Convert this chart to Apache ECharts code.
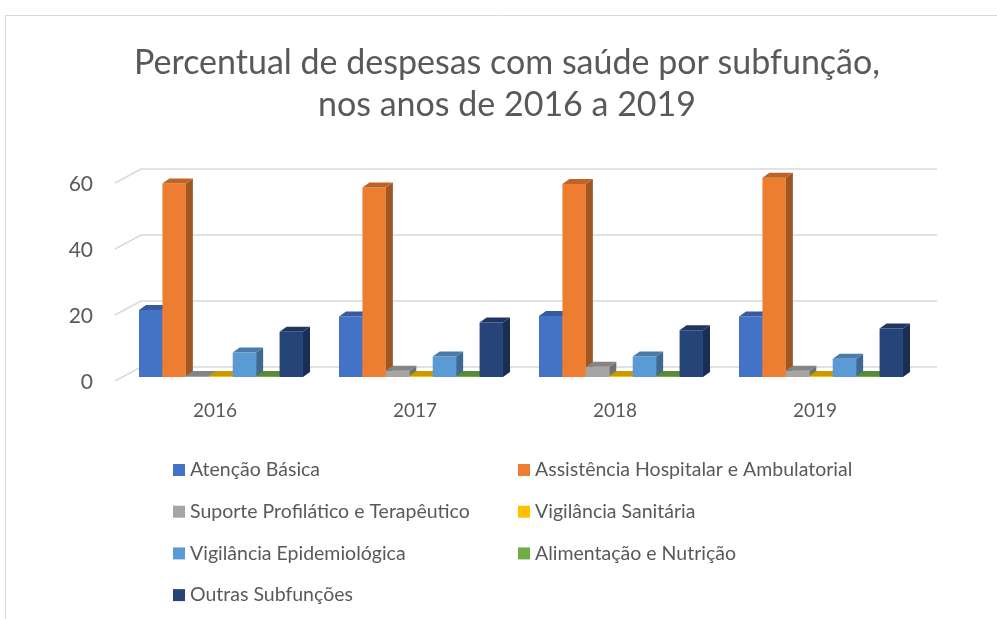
<!DOCTYPE html>
<html>
<head>
<meta charset="utf-8">
<script src="https://cdn.jsdelivr.net/npm/echarts@6/dist/echarts.min.js"></script>
<style>
  html, body { margin: 0; padding: 0; background: #fff; }
  #chart { width: 997px; height: 619px; }
</style>
</head>
<body>
<div id="chart"></div>
<script>
// dados (%)
const anos = ['2016', '2017', '2018', '2019']
const yTicks = [0, 20, 40, 60]
const atencaoBasica = [20.3, 18.3, 18.5, 18.3]
const assistencia = [58.6, 57.4, 58.5, 60.4]
const suporte = [0.3, 1.9, 3.1, 1.9]
const vigSanitaria = [0.3, 0.3, 0.3, 0.3]
const vigEpidemiologica = [7.4, 6.2, 6.2, 5.5]
const alimentacao = [0.3, 0.3, 0.3, 0.3]
const outras = [13.7, 16.5, 14.2, 14.7]

const seriesDefs = [
  {name: 'Atenção Básica', data: atencaoBasica, color: '#4472C4'},
  {name: 'Assistência Hospitalar e Ambulatorial', data: assistencia, color: '#ED7D31'},
  {name: 'Suporte Profilático e Terapêutico', data: suporte, color: '#A5A5A5'},
  {name: 'Vigilância Sanitária', data: vigSanitaria, color: '#FFC000'},
  {name: 'Vigilância Epidemiológica', data: vigEpidemiologica, color: '#5B9BD5'},
  {name: 'Alimentação e Nutrição', data: alimentacao, color: '#70AD47'},
  {name: 'Outras Subfunções', data: outras, color: '#264478'}
]

const FONT = 'Lato, "Open Sans", sans-serif'
const TXT = '#595959'
const DX = 7, DY = 5  // profundidade das colunas

// escurece uma cor hex (k < 1)
const shade = (hex, k) => {
  const n = parseInt(hex.slice(1), 16)
  const r = Math.round(((n >> 16) & 255) * k)
  const g = Math.round(((n >> 8) & 255) * k)
  const b = Math.round((n & 255) * k)
  return `rgb(${r},${g},${b})`
}

const chart = echarts.init(document.getElementById('chart'))

// colunas "3D": frente + lateral + topo
const makeBar = (i, color) => (params, api) => {
  const cat = api.value(0)
  const top = api.coord([cat, api.value(1)])
  const base = api.coord([cat, 0])
  const band = api.size([1, 0])[0]
  const pitch = band * 0.82 / seriesDefs.length
  const x0 = top[0] - band * 0.41 + i * pitch
  const w = pitch
  const yt = Math.min(top[1], base[1] - 1)
  const yb = base[1]
  return {
    type: 'group',
    children: [
      {type: 'rect', shape: {x: x0, y: yt, width: w, height: yb - yt}, style: {fill: color}},
      {type: 'polygon', shape: {points: [[x0 + w, yt], [x0 + w + DX, yt - DY], [x0 + w + DX, yb - DY], [x0 + w, yb]]},
        style: {fill: shade(color, 0.68)}},
      {type: 'polygon', shape: {points: [[x0, yt], [x0 + DX, yt - DY], [x0 + w + DX, yt - DY], [x0 + w, yt]]},
        style: {fill: shade(color, 0.8)}}
    ]
  }
}

// linhas de grade na parede do fundo + piso
const wallSeries = {
  type: 'custom',
  silent: true,
  z: 1,
  data: yTicks.map(v => [0, v]),
  renderItem: (params, api) => {
    const p = api.coord([0, api.value(1)])
    const cs = params.coordSys
    const y = p[1]
    return {
      type: 'polyline',
      shape: {points: [[cs.x - 6, y + 4], [cs.x + 20, y - 10], [cs.x + cs.width + 16, y - 10]]},
      style: {stroke: '#d9d9d9', lineWidth: 1.5, fill: null}
    }
  }
}

const barSeries = seriesDefs.map((s, i) => ({
  name: s.name,
  type: 'custom',
  z: 2,
  itemStyle: {color: s.color},
  data: s.data.map((v, k) => [k, v]),
  renderItem: makeBar(i, s.color)
}))

const legendBase = {
  orient: 'vertical',
  icon: 'rect',
  padding: 0,
  itemWidth: 12,
  itemHeight: 12,
  itemGap: 21.7,
  textStyle: {color: TXT, fontSize: 19.5, fontFamily: FONT, lineHeight: 20}
}

chart.setOption({
  backgroundColor: '#fff',
  animation: false,
  graphic: [{
    type: 'rect', silent: true,
    shape: {x: 5.5, y: 15.5, width: 1100, height: 700},
    style: {fill: null, stroke: '#d9d9d9', lineWidth: 1}
  }],
  title: {
    text: 'Percentual de despesas com saúde por subfunção,\nnos anos de 2016 a 2019',
    left: 502,
    top: 37,
    textAlign: 'center',
    textStyle: {color: TXT, fontSize: 34, fontWeight: 'normal', fontFamily: FONT, lineHeight: 42}
  },
  legend: [
    {...legendBase, left: 173, top: 460,
      data: ['Atenção Básica', 'Suporte Profilático e Terapêutico', 'Vigilância Epidemiológica', 'Outras Subfunções']},
    {...legendBase, left: 518, top: 460,
      data: ['Assistência Hospitalar e Ambulatorial', 'Vigilância Sanitária', 'Alimentação e Nutrição']}
  ],
  grid: {left: 121, right: 76, top: 179, bottom: 242, containLabel: false},
  xAxis: {
    type: 'category',
    data: anos,
    axisLine: {show: false},
    axisTick: {show: false},
    axisLabel: {color: TXT, fontSize: 19, fontFamily: FONT, margin: 24, padding: [0, 12, 0, 0]}
  },
  yAxis: {
    type: 'value',
    min: 0,
    max: 60,
    interval: 20,
    splitLine: {show: false},
    axisLine: {show: false},
    axisTick: {show: false},
    axisLabel: {color: TXT, fontSize: 21, fontFamily: FONT, margin: 28, verticalAlign: 'top', lineHeight: 10}
  },
  series: [wallSeries, ...barSeries]
})
</script>
</body>
</html>
